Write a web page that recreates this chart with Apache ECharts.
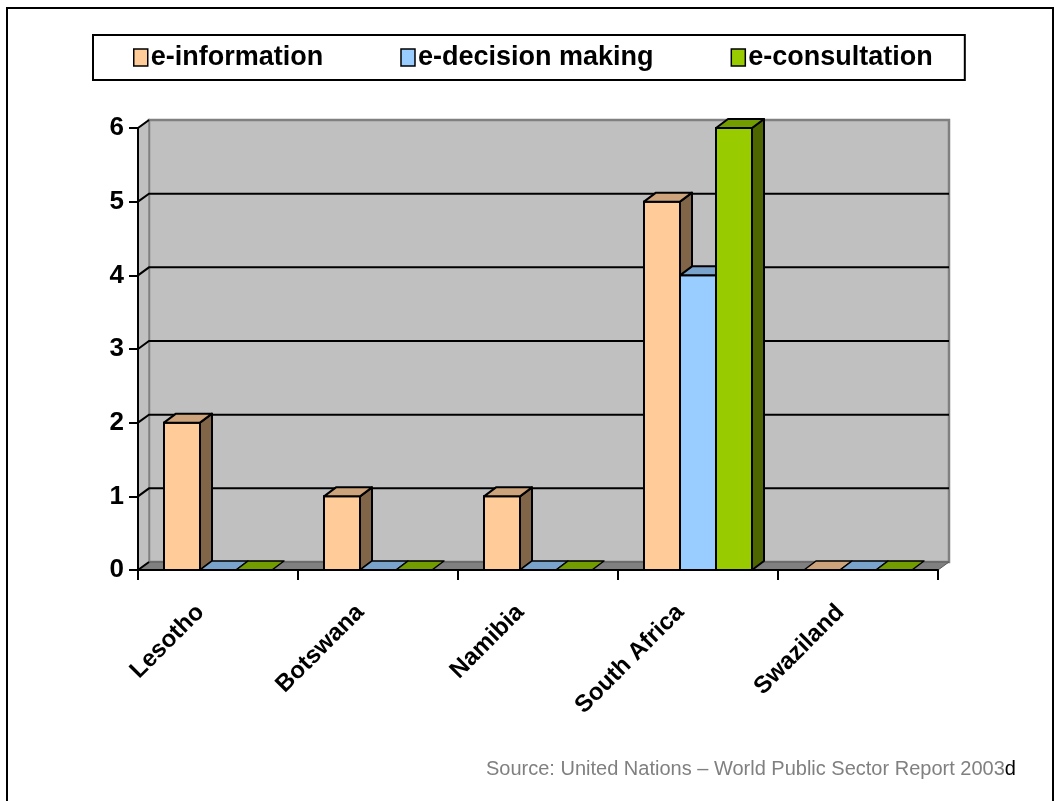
<!DOCTYPE html>
<html><head><meta charset="utf-8">
<script src="https://cdn.jsdelivr.net/npm/echarts@6/dist/echarts.min.js"></script>
<style>html,body{margin:0;padding:0;background:#fff}#c{width:1055px;height:801px}</style>
</head><body><div id="c"></div>
<script>
const categories = ['Lesotho', 'Botswana', 'Namibia', 'South Africa', 'Swaziland'];
const seriesNames = ['e-information', 'e-decision making', 'e-consultation'];
const eInformation = [2, 1, 1, 5, 0];
const eDecisionMaking = [0, 0, 0, 4, 0];
const eConsultation = [0, 0, 0, 6, 0];
const yTicks = [0, 1, 2, 3, 4, 5, 6];
const sourceText = 'Source: United Nations \u2013 World Public Sector Report 2003';

const FRONT = ['#FFCC99', '#99CCFF', '#99CC00'];
const TOP = ['#CCA37A', '#7AA3CC', '#739C00'];
const SIDE = ['#806548', '#4D6680', '#4D6600'];
const WALL_DX = 11, WALL_DY = -8;
const BAR_DX = 12, BAR_DY = -9;
const FONT = 'Liberation Sans, Arial, sans-serif';

function barRenderer(sIdx) {
  return function (params, api) {
    const ci = api.value(0), v = api.value(1);
    const base = api.coord([ci, 0]);
    const topP = api.coord([ci, v]);
    const catW = api.size([1, 0])[0];
    const bw = catW * 36 / 160;
    const x0 = base[0] - 1.5 * bw + sIdx * bw;
    const x1 = x0 + bw;
    const yb = base[1], yt = topP[1];
    const children = [];
    if (v > 0) {
      children.push({ type: 'rect', shape: { x: x0, y: yt, width: bw, height: yb - yt },
        style: { fill: FRONT[sIdx], stroke: '#000', lineWidth: 2 } });
      children.push({ type: 'polygon', shape: { points: [[x1, yt], [x1 + BAR_DX, yt + BAR_DY], [x1 + BAR_DX, yb + BAR_DY], [x1, yb]] },
        style: { fill: SIDE[sIdx], stroke: '#000', lineWidth: 2, lineJoin: 'round' } });
    }
    children.push({ type: 'polygon', shape: { points: [[x0, yt], [x0 + BAR_DX, yt + BAR_DY], [x1 + BAR_DX, yt + BAR_DY], [x1, yt]] },
      style: { fill: TOP[sIdx], stroke: '#000', lineWidth: v > 0 ? 2 : 1.5, lineJoin: 'round' } });
    return { type: 'group', children: children };
  };
}

function wallRenderer(params, api) {
  const cs = params.coordSys;
  const x = cs.x, y = cs.y, w = cs.width, h = cs.height;
  const children = [
    { type: 'rect', shape: { x: x + WALL_DX, y: y + WALL_DY, width: w, height: h },
      style: { fill: '#C0C0C0', stroke: '#808080', lineWidth: 2.5 } },
    { type: 'polygon', shape: { points: [[x, y], [x + WALL_DX, y + WALL_DY], [x + WALL_DX, y + h + WALL_DY], [x, y + h]] },
      style: { fill: '#C0C0C0', stroke: '#808080', lineWidth: 1.5 } },
    { type: 'polygon', shape: { points: [[x, y + h], [x + WALL_DX, y + h + WALL_DY], [x + w + WALL_DX, y + h + WALL_DY], [x + w, y + h]] },
      style: { fill: '#808080', stroke: '#5a5a5a', lineWidth: 1 } }
  ];
  const last = yTicks[yTicks.length - 1];
  yTicks.forEach(function (t) {
    const gy = api.coord([0, t])[1];
    const pts = [[x, gy], [x + WALL_DX, gy + WALL_DY]];
    if (t !== 0 && t !== last) pts.push([x + w + WALL_DX, gy + WALL_DY]);
    children.push({ type: 'polyline', shape: { points: pts }, style: { stroke: '#000', lineWidth: 2, fill: null } });
  });
  return { type: 'group', children: children };
}

const seriesValues = [eInformation, eDecisionMaking, eConsultation];

const chart = echarts.init(document.getElementById('c'), null, { renderer: 'canvas' });
chart.setOption({
  animation: false,
  backgroundColor: '#fff',
  grid: { left: 138, right: 117, top: 128, bottom: 231, containLabel: false },
  legend: {
    left: 93, top: 35,
    padding: [9, 32, 9, 40],
    borderColor: '#000', borderWidth: 2,
    itemGap: 77, itemWidth: 14, itemHeight: 17,
    itemStyle: { borderColor: '#000', borderWidth: 1.5 },
    textStyle: { fontFamily: FONT, fontWeight: 'bold', fontSize: 27, color: '#000', padding: [0, 0, 0, -2] },
    data: seriesNames.map(function (n) { return { name: n, icon: 'rect' }; })
  },
  xAxis: {
    type: 'category', data: categories, z: 10,
    boundaryGap: true,
    axisLine: { lineStyle: { color: '#000', width: 2 } },
    axisTick: { show: true, length: 10, lineStyle: { color: '#000', width: 2 } },
    axisLabel: { rotate: 45, interval: 0, margin: 21, padding: [0, 25, 0, 0],
      fontFamily: FONT, fontWeight: 'bold', fontSize: 24, color: '#000' },
    splitLine: { show: false }
  },
  yAxis: {
    type: 'value', min: 0, max: 6, interval: 1, z: 10,
    axisLine: { show: true, lineStyle: { color: '#000', width: 2 } },
    axisTick: { show: true, length: 9, lineStyle: { color: '#000', width: 2 } },
    axisLabel: { margin: 14, fontFamily: FONT, fontWeight: 'bold', fontSize: 26, color: '#000' },
    splitLine: { show: false }
  },
  series: [
    { type: 'custom', name: '_walls', silent: true, z: 1, clip: false, renderItem: wallRenderer, data: [[0, 0]], encode: { x: 0, y: 1 }, itemStyle: { color: '#C0C0C0' } }
  ].concat(seriesValues.map(function (vals, s) {
    return {
      type: 'custom', name: seriesNames[s], z: 3 + s, clip: false,
      renderItem: barRenderer(s),
      itemStyle: { color: FRONT[s], borderColor: '#000' },
      encode: { x: 0, y: 1 },
      data: vals.map(function (v, i) { return [i, v]; })
    };
  })),
  graphic: [
    { type: 'rect', shape: { x: 7, y: 8, width: 1046, height: 800 }, style: { fill: null, stroke: '#000', lineWidth: 2 }, silent: true, z: 100 },
    { type: 'text', x: 486, y: 769, z: 100,
      style: { text: '{g|' + sourceText + '}{k|d}', verticalAlign: 'middle',
        rich: { g: { fontFamily: FONT, fontSize: 20, fill: '#808080' }, k: { fontFamily: FONT, fontSize: 20, fill: '#000' } } } }
  ]
});
</script></body></html>
